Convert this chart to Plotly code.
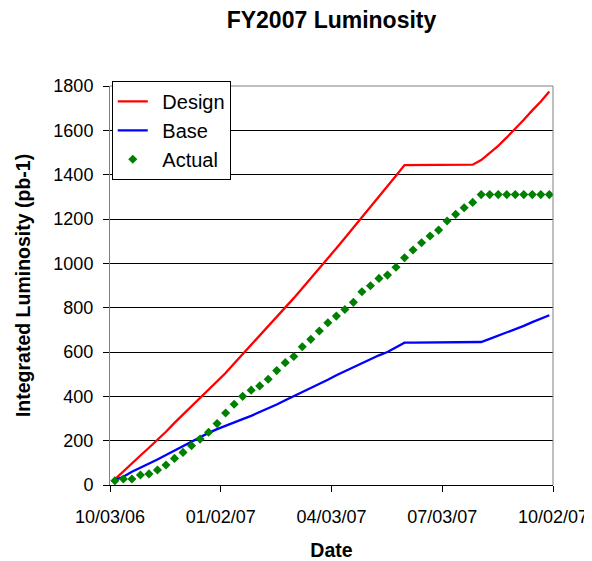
import pandas as pd
import plotly.graph_objects as go

# weekly dates
dates = pd.date_range("2006-10-07", periods=52, freq="7D")

design = [25, 62, 98, 133, 168, 203, 240, 280, 318, 356, 395, 432, 467, 505, 548, 590,
          630, 672, 714, 756, 800, 843, 888, 932, 977, 1022, 1068, 1114, 1160, 1207, 1254,
          1300, 1348, 1395, 1443, 1443, 1443, 1443, 1443, 1443, 1443, 1443, 1445, 1466,
          1497, 1530, 1568, 1606, 1648, 1690, 1730, 1775]

base = [23, 37, 60, 78, 95, 115, 135, 155, 175, 198, 215, 235, 252, 268, 282, 297, 312,
        328, 345, 363, 382, 400, 420, 438, 455, 475, 495, 513, 530, 550, 567, 585, 600,
        620, 642, 642, 642, 642, 642, 642, 642, 642, 642, 645, 659, 673, 688, 703, 718,
        735, 752, 766]

actual = [19, 27, 27, 45, 50, 68, 90, 120, 147, 177, 207, 238, 277, 325, 364, 400, 428,
          447, 477, 516, 552, 580, 624, 657, 695, 732, 762, 792, 824, 872, 899, 932, 947,
          982, 1025, 1060, 1093, 1123, 1150, 1191, 1221, 1251, 1275,
          1310, 1310, 1310, 1310, 1310, 1310, 1310, 1310, 1310]

tick_dates = ["2006-10-03", "2007-01-02", "2007-04-03", "2007-07-03", "2007-10-02"]
tick_labels = ["10/03/06", "01/02/07", "04/03/07", "07/03/07", "10/02/07"]

FONT = "Liberation Sans, Arial, sans-serif"
PAD = "\u00a0\u2009"  # small gap between legend symbol and text

# page body has an 8px margin, so the figure is 16px smaller than the window
W, H = 584, 553

fig = go.Figure()
fig.add_trace(go.Scatter(x=dates, y=design, mode="lines", name=PAD + "Design",
                         line=dict(color="#FF0000", width=2.3)))
fig.add_trace(go.Scatter(x=dates, y=base, mode="lines", name=PAD + "Base",
                         line=dict(color="#0000FF", width=2.3)))
fig.add_trace(go.Scatter(x=dates, y=actual, mode="markers", name=PAD + "Actual",
                         marker=dict(symbol="diamond", color="#008000", size=7,
                                     line=dict(width=0))))

fig.update_layout(
    width=W, height=H,
    margin=dict(l=102, r=39, t=78, b=76),
    paper_bgcolor="white", plot_bgcolor="white",
    font=dict(family=FONT, color="black", size=18),
    title=dict(text="<b>FY2007 Luminosity</b>", x=0.5, xref="paper", xanchor="center",
               y=1 - 12 / H, yanchor="middle", font=dict(size=23, family=FONT)),
    showlegend=True,
    legend=dict(x=0.004, y=1.013, xanchor="left", yanchor="top",
                bgcolor="white", bordercolor="black", borderwidth=1,
                font=dict(size=20, family=FONT)),
    xaxis=dict(type="date", range=["2006-10-03", "2007-10-02"],
               tickvals=tick_dates, ticktext=tick_labels,
               showgrid=False, zeroline=False, automargin=False,
               showline=True, linecolor="black", linewidth=1,
               ticks="outside", ticklen=6, tickcolor="black",
               ticklabelstandoff=9,
               title=dict(text="<b>Date</b>", font=dict(size=19.5), standoff=20)),
    yaxis=dict(range=[0, 1800], dtick=200, tick0=0, automargin=False,
               showgrid=True, gridcolor="black", gridwidth=1, zeroline=False,
               showline=True, linecolor="#808080", linewidth=1,
               ticks="outside", ticklen=6, tickcolor="black",
               ticklabelstandoff=6,
               title=dict(text="<b>Integrated Luminosity (pb-1)</b>", font=dict(size=19.5),
                          standoff=17)),
    shapes=[
        dict(type="line", xref="paper", yref="paper", x0=0, x1=1, y0=1, y1=1,
             line=dict(color="#808080", width=1), layer="above"),
        dict(type="line", xref="paper", yref="paper", x0=1, x1=1, y0=0, y1=1,
             line=dict(color="#808080", width=1), layer="above"),
    ],
)

fig.write_html("out.html")
